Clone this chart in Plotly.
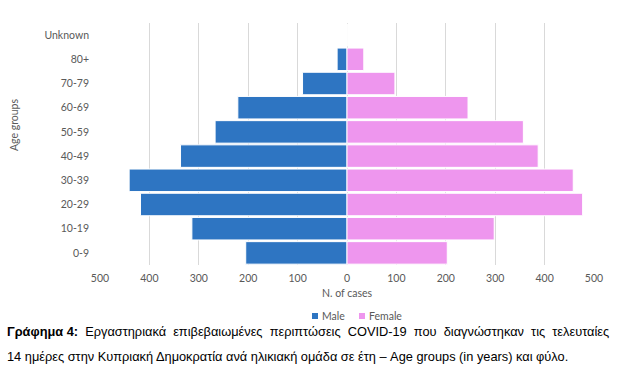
import plotly.graph_objects as go

age_groups = ["0-9", "10-19", "20-29", "30-39", "40-49", "50-59", "60-69", "70-79", "80+", "Unknown"]
male = [205, 314, 418, 441, 337, 267, 221, 90, 20, 0]
female = [203, 298, 477, 458, 387, 357, 245, 97, 34, 0]
tick_vals = [-500, -400, -300, -200, -100, 0, 100, 200, 300, 400, 500]
tick_text = ["500", "400", "300", "200", "100", "0", "100", "200", "300", "400", "500"]
legend_names = ["Male", "Female"]

MALE_C = "#2E75C2"
FEMALE_C = "#EE96EE"
GRAY = "#595959"
AX_FONT = "Lato"
AX_SIZE = 10.5

fig = go.Figure()
fig.add_trace(go.Bar(
    y=age_groups, x=[-v for v in male], name="Male", orientation="h", showlegend=False,
    marker=dict(color=MALE_C, line=dict(color="white", width=1)),
    customdata=male, hovertemplate="%{y}: %{customdata}<extra>Male</extra>",
))
fig.add_trace(go.Bar(
    y=age_groups, x=female, name="Female", orientation="h", showlegend=False,
    marker=dict(color=FEMALE_C, line=dict(color="white", width=1)),
    hovertemplate="%{y}: %{x}<extra>Female</extra>",
))

W, H = 631, 388
L, R, T, B = 100, 37, 23, 123
pw = W - L - R
ph = H - T - B

def px(x):
    return (x - L) / pw

def py(y):
    return (H - B - y) / ph

# manual legend (small squares + text)
shapes = []
annotations = []
for name, col, sq_cx in [(legend_names[0], MALE_C, 315), (legend_names[1], FEMALE_C, 362)]:
    shapes.append(dict(type="rect", xref="paper", yref="paper",
                       x0=px(sq_cx - 3), x1=px(sq_cx + 3), y0=py(316 + 3), y1=py(316 - 3),
                       fillcolor=col, line=dict(width=0)))
    annotations.append(dict(text=name, x=px(sq_cx + 5), y=py(316), xref="paper", yref="paper",
                            xanchor="left", yanchor="middle", showarrow=False,
                            font=dict(family=AX_FONT, size=AX_SIZE, color=GRAY)))

SP = " \u00a0"
line1 = "<b>Γράφημα 4:</b>" + SP + SP.join(
    "Εργαστηριακά επιβεβαιωμένες περιπτώσεις COVID-19 που διαγνώστηκαν τις τελευταίες".split(" "))
line2 = "14 ημέρες στην Κυπριακή Δημοκρατία ανά ηλικιακή ομάδα σε έτη – Age groups (in years) και φύλο."

annotations += [
    dict(text="N. of cases", x=px(347), y=py(293), xref="paper", yref="paper",
         xanchor="center", yanchor="middle", showarrow=False,
         font=dict(family=AX_FONT, size=AX_SIZE, color=GRAY)),
    dict(text="Age groups", x=px(14), y=py(125), xref="paper", yref="paper",
         xanchor="center", yanchor="middle", showarrow=False, textangle=-90,
         font=dict(family=AX_FONT, size=AX_SIZE, color=GRAY)),
    dict(text=line1, x=px(5), y=py(331), xref="paper", yref="paper",
         xanchor="left", yanchor="middle", showarrow=False,
         font=dict(family="Liberation Sans", size=12.8, color="black")),
    dict(text=line2, x=px(5), y=py(356), xref="paper", yref="paper",
         xanchor="left", yanchor="middle", showarrow=False,
         font=dict(family="Liberation Sans", size=12.8, color="black")),
]

fig.update_layout(
    width=W, height=H,
    margin=dict(l=L, r=R, t=T, b=B, autoexpand=False),
    barmode="overlay", bargap=0.07,
    plot_bgcolor="white", paper_bgcolor="white",
    font=dict(family=AX_FONT, size=AX_SIZE, color=GRAY),
    showlegend=False,
    xaxis=dict(range=[-500, 500], tickvals=tick_vals, ticktext=tick_text, automargin=False,
               showgrid=True, gridcolor="#D9D9D9", gridwidth=1, zeroline=False,
               showline=False, ticks="", ticklabelstandoff=5,
               tickfont=dict(family=AX_FONT, size=AX_SIZE, color=GRAY)),
    yaxis=dict(showgrid=False, zeroline=False, showline=False, ticks="", automargin=False,
               ticklabelstandoff=10, tickfont=dict(family=AX_FONT, size=AX_SIZE, color=GRAY)),
    shapes=shapes,
    annotations=annotations,
)

fig.write_html("out.html", config={"displayModeBar": False},
               post_script="document.body.style.margin='0';document.body.style.padding='0';")
